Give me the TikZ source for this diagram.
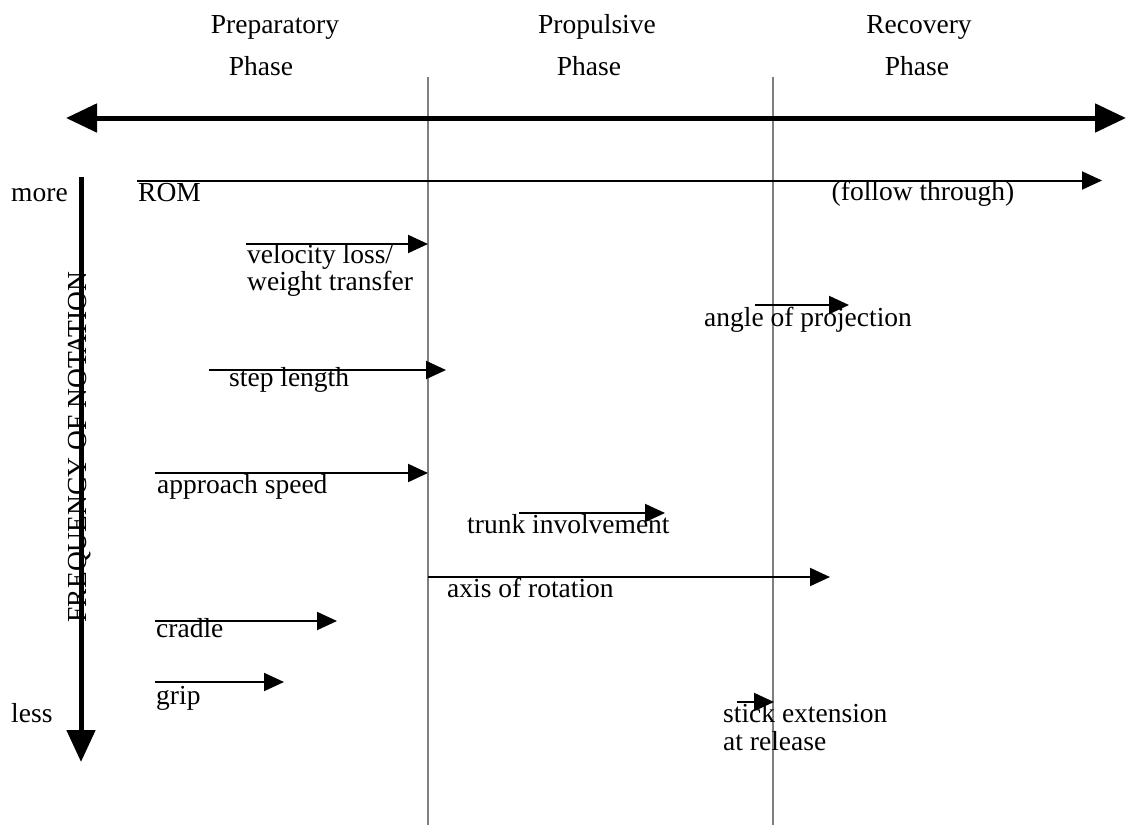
\documentclass[tikz,border=0pt]{standalone}
\usepackage{fontspec}
\setmainfont{Liberation Serif}
\usetikzlibrary{arrows.meta,positioning}

\begin{document}
\begin{tikzpicture}[
    x=1pt, y=-1pt,
    txt/.style={inner sep=0pt, font=\fontsize{27.5}{25}\selectfont},
    lbl/.style={txt, anchor=base west, align=left},
    phase/.style={txt, anchor=base},
    divider/.style={line width=2pt, color=black!50},
    mainaxis/.style={line width=5pt, {Triangle[length=31pt,width=28pt]}-{Triangle[length=31pt,width=28pt]}},
    freqaxis/.style={line width=5pt, -{Triangle[length=32pt,width=28pt]}},
    factor/.style={line width=2pt, -{Triangle[length=20pt,width=18pt]}}
  ]
    \useasboundingbox (0,0) rectangle (1127,825);

    \node[phase] (prep1) at (275,33) {Preparatory};
    \node[phase] (prep2) at (261,75) {Phase};
    \node[phase] (prop1) at (597,33) {Propulsive};
    \node[phase] (prop2) at (589,75) {Phase};
    \node[phase] (reco1) at (919,33) {Recovery};
    \node[phase] (reco2) at (917,75) {Phase};

    \coordinate (div1-top) at (428,77);
    \coordinate (div1-bot) at (428,825);
    \coordinate (div2-top) at (773,77);
    \coordinate (div2-bot) at (773,825);
    \draw[divider] (div1-top) -- (div1-bot);
    \draw[divider] (div2-top) -- (div2-bot);

    \coordinate (west) at (66,118);
    \coordinate (east) at (1126,118);
    \draw[mainaxis] (west) -- (east);

    \coordinate (freq-top) at (81,177);
    \coordinate (freq-bot) at (81,762);
    \draw[freqaxis] (freq-top) -- (freq-bot);
    \node[lbl] (more) at (11,201) {more};
    \node[lbl] (less) at (11,722) {less};
    \node[txt, rotate=90, anchor=base] (freq) at (86,447) {FREQUENCY OF NOTATION};

    \coordinate (rom-s) at (137,180.5);
    \coordinate (rom-e) at (1102,180.5);
    \coordinate (vel-s) at (246,244);
    \coordinate (vel-e) at (428,244);
    \coordinate (ang-s) at (755,305);
    \coordinate (ang-e) at (849,305);
    \coordinate (step-s) at (209,370);
    \coordinate (step-e) at (446,370);
    \coordinate (appr-s) at (155,473);
    \coordinate (appr-e) at (428,473);
    \coordinate (trunk-s) at (519,513);
    \coordinate (trunk-e) at (665,513);
    \coordinate (axis-s) at (428,577);
    \coordinate (axis-e) at (830,577);
    \coordinate (cradle-s) at (155,621);
    \coordinate (cradle-e) at (337,621);
    \coordinate (grip-s) at (155,682);
    \coordinate (grip-e) at (284,682);
    \coordinate (stick-s) at (737,702);
    \coordinate (stick-e) at (774,702);

    \draw[factor] (rom-s) -- (rom-e);
    \draw[factor] (vel-s) -- (vel-e);
    \draw[factor] (ang-s) -- (ang-e);
    \draw[factor] (step-s) -- (step-e);
    \draw[factor] (appr-s) -- (appr-e);
    \draw[factor] (trunk-s) -- (trunk-e);
    \draw[factor] (axis-s) -- (axis-e);
    \draw[factor] (cradle-s) -- (cradle-e);
    \draw[factor] (grip-s) -- (grip-e);
    \draw[factor] (stick-s) -- (stick-e);

    \node[lbl] (rom) at (138,201) {ROM};
    \node[phase] (follow) at (923,200) {(follow through)};
    \node[lbl, font=\fontsize{27.5}{24.3}\selectfont] (vel) at (247,290) {velocity loss/\\weight transfer};
    \node[lbl] (ang) at (704,326) {angle of projection};
    \node[lbl] (step) at (229,386) {step length};
    \node[lbl] (appr) at (157,493) {approach speed};
    \node[lbl] (trunk) at (467,533) {trunk involvement};
    \node[lbl] (axis) at (447,597) {axis of rotation};
    \node[lbl] (cradle) at (156,637) {cradle};
    \node[lbl] (grip) at (156,704) {grip};
    \node[lbl, font=\fontsize{27.5}{27.3}\selectfont] (stick) at (723,750) {stick extension\\at release};
  \end{tikzpicture}
\end{document}
